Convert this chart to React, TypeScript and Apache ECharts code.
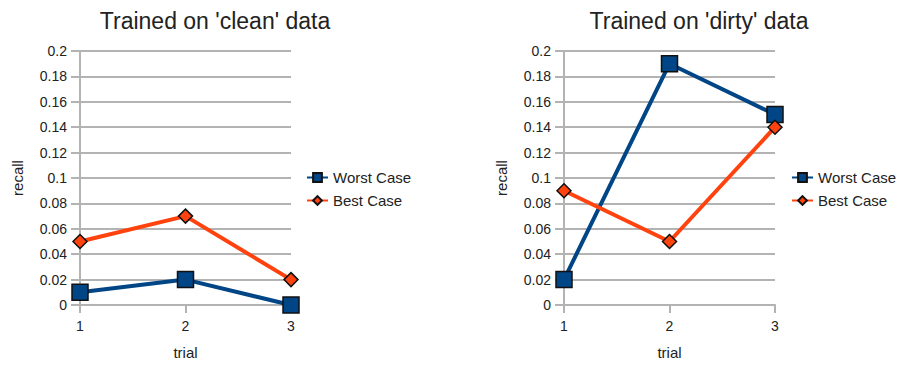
import React, { useEffect, useRef } from "react";
import * as echarts from "echarts";

const trials = ["1", "2", "3"];
const cleanWorst = [0.01, 0.02, 0];
const cleanBest = [0.05, 0.07, 0.02];
const dirtyWorst = [0.02, 0.19, 0.15];
const dirtyBest = [0.09, 0.05, 0.14];
const titles = ["Trained on 'clean' data", "Trained on 'dirty' data"];
const seriesNames = ["Worst Case", "Best Case"];

const FONT = "Liberation Sans, Arial, sans-serif";
const GRID_COLOR = "#b3b3b3";
const TEXT = "#222222";
const WORST = "#004586";
const BEST = "#ff420e";

export default function App() {
  const ref = useRef<HTMLDivElement>(null);
  useEffect(() => {
    if (!ref.current) return;
    const chart = echarts.init(ref.current, undefined, { renderer: "svg" });
    const grids = [
      { left: 80, top: 51, width: 211, bottom: 60 },
      { left: 564, top: 51, width: 211, bottom: 60 },
    ];
    const xAxis = grids.map((_, i) => ({
      type: "category",
      gridIndex: i,
      data: trials,
      boundaryGap: false,
      name: "trial",
      nameLocation: "middle",
      nameGap: 40,
      nameTextStyle: { color: TEXT, fontSize: 15, fontFamily: FONT },
      axisLine: { show: true, lineStyle: { color: GRID_COLOR, width: 2 } },
      axisTick: { show: true, length: 8, lineStyle: { color: GRID_COLOR, width: 2 } },
      axisLabel: { color: TEXT, fontSize: 14, fontFamily: FONT, margin: 14 },
      splitLine: { show: false },
    }));
    const yAxis = grids.map((_, i) => ({
      type: "value",
      gridIndex: i,
      min: 0,
      max: 0.2,
      interval: 0.02,
      name: "recall",
      nameLocation: "middle",
      nameGap: 55,
      nameTextStyle: { color: TEXT, fontSize: 15, fontFamily: FONT },
      axisLine: { show: true, lineStyle: { color: GRID_COLOR, width: 2 } },
      axisTick: { show: true, length: 9, lineStyle: { color: GRID_COLOR, width: 2 } },
      axisLabel: {
        color: TEXT,
        fontSize: 14,
        fontFamily: FONT,
        margin: 13,
        formatter: (v: number) => String(Math.round(v * 100) / 100),
      },
      splitLine: { show: true, lineStyle: { color: GRID_COLOR, width: 2 } },
    }));
    const mk = (name: string, data: number[], idx: number, worst: boolean) => ({
      name,
      type: "line",
      xAxisIndex: idx,
      yAxisIndex: idx,
      data,
      symbol: worst ? "rect" : "diamond",
      symbolSize: worst ? 16 : 14,
      lineStyle: { color: worst ? WORST : BEST, width: 4 },
      itemStyle: { color: worst ? WORST : BEST, borderColor: "#111111", borderWidth: 1.5 },
      z: worst ? 2 : 3,
    });
    const legendBase = {
      top: 170,
      padding: 0,
      orient: "vertical",
      itemGap: 8,
      itemWidth: 21,
      itemHeight: 11,
      data: seriesNames,
      textStyle: { color: TEXT, fontSize: 15, fontFamily: FONT },
      selectedMode: false,
    };
    chart.setOption({
      animation: false,
      textStyle: { fontFamily: FONT },
      grid: grids,
      xAxis,
      yAxis,
      graphic: [
        { type: "text", x: 215, y: 9, style: { text: titles[0], fontSize: 23, fontFamily: FONT, fill: "#222222", textAlign: "center" } },
        { type: "text", x: 699, y: 9, style: { text: titles[1], fontSize: 23, fontFamily: FONT, fill: "#222222", textAlign: "center" } },
      ],
      legend: [
        { ...legendBase, left: 306 },
        { ...legendBase, left: 791 },
      ],
      series: [
        mk(seriesNames[0], cleanWorst, 0, true),
        mk(seriesNames[1], cleanBest, 0, false),
        mk(seriesNames[0], dirtyWorst, 1, true),
        mk(seriesNames[1], dirtyBest, 1, false),
      ],
    });
    return () => chart.dispose();
  }, []);
  return (
    <div
      ref={ref}
      style={{ position: "fixed", left: 0, top: 0, width: 901, height: 365, background: "#ffffff" }}
    />
  );
}
